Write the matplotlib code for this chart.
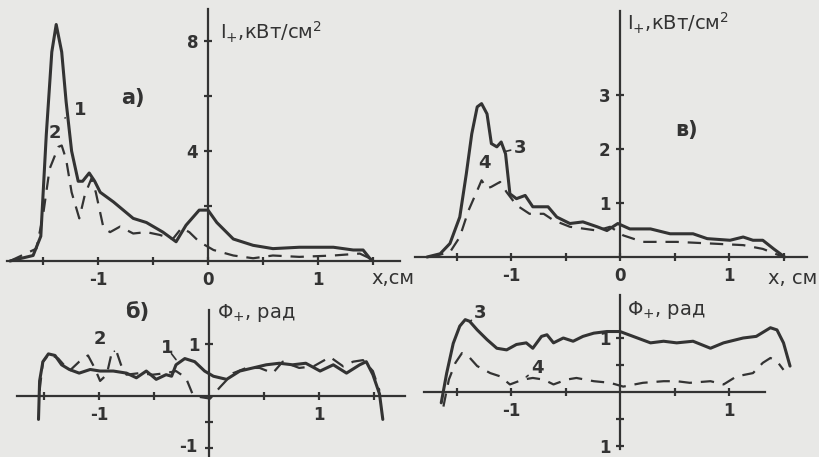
import matplotlib
matplotlib.use("Agg")
import matplotlib.pyplot as plt

# ---------------- data ----------------
# panel a) intensity, curves 1 (solid) and 2 (dashed)
xa1 = [-1.80, -1.59, -1.52, -1.47, -1.42, -1.38, -1.33, -1.29, -1.24, -1.18, -1.14, -1.08, -1.03, -0.98,
       -0.86, -0.68, -0.56, -0.41, -0.29, -0.20, -0.08, 0.00, 0.08, 0.23, 0.41, 0.59, 0.83, 1.14, 1.32,
       1.41, 1.47, 1.50]
ya1 = [0.0, 0.2, 0.9, 4.6, 7.6, 8.6, 7.6, 5.8, 4.0, 2.9, 2.9, 3.2, 2.9, 2.5,
       2.15, 1.55, 1.4, 1.05, 0.7, 1.3, 1.85, 1.85, 1.4, 0.8, 0.57, 0.45, 0.5, 0.5, 0.4,
       0.4, 0.1, 0.0]
xa2 = [-1.80, -1.56, -1.50, -1.44, -1.36, -1.33, -1.29, -1.24, -1.17, -1.12, -1.06, -1.02, -0.95, -0.89,
       -0.80, -0.68, -0.56, -0.44, -0.32, -0.24, -0.17, -0.08, 0.05, 0.23, 0.41, 0.59, 0.83, 1.14,
       1.38, 1.47]
ya2 = [0.0, 0.45, 1.65, 3.35, 4.15, 4.2, 3.7, 2.5, 1.55, 2.4, 3.0, 2.5, 1.2, 1.05,
       1.25, 1.0, 1.05, 0.95, 0.8, 1.2, 1.05, 0.7, 0.4, 0.2, 0.1, 0.2, 0.15, 0.2,
       0.27, 0.1]

# panel в) intensity, curves 3 (solid) and 4 (dashed)
xc3 = [-1.77, -1.65, -1.56, -1.47, -1.41, -1.36, -1.31, -1.27, -1.22, -1.18, -1.13, -1.09, -1.05, -1.01,
       -0.95, -0.87, -0.80, -0.66, -0.58, -0.46, -0.34, -0.21, -0.12, -0.02, 0.09, 0.28, 0.46, 0.67,
       0.80, 1.01, 1.13, 1.22, 1.31, 1.41, 1.51]
yc3 = [0.0, 0.06, 0.25, 0.74, 1.54, 2.28, 2.78, 2.84, 2.65, 2.1, 2.04, 2.13, 1.91, 1.17,
       1.08, 1.14, 0.93, 0.93, 0.74, 0.62, 0.65, 0.56, 0.49, 0.62, 0.52, 0.52, 0.43, 0.43,
       0.34, 0.31, 0.37, 0.31, 0.31, 0.15, 0.0]
xc4 = [-1.74, -1.56, -1.47, -1.39, -1.31, -1.27, -1.22, -1.18, -1.10, -1.04, -0.95, -0.83, -0.70, -0.61,
       -0.46, -0.21, -0.09, 0.03, 0.21, 0.52, 0.83, 1.13, 1.31, 1.50]
yc4 = [0.0, 0.09, 0.37, 0.86, 1.23, 1.42, 1.27, 1.3, 1.39, 1.2, 0.96, 0.8, 0.8, 0.68,
       0.56, 0.49, 0.56, 0.4, 0.28, 0.28, 0.25, 0.22, 0.15, 0.0]

# panel б) phase, curves 1 (solid) and 2 (dashed)
xb1 = [-1.55, -1.54, -1.51, -1.46, -1.40, -1.34, -1.27, -1.18, -1.08, -0.99, -0.87, -0.75, -0.66, -0.57,
       -0.48, -0.39, -0.34, -0.30, -0.22, -0.13, -0.04, 0.04, 0.16, 0.28, 0.40, 0.52, 0.64, 0.76,
       0.88, 1.01, 1.13, 1.25, 1.37, 1.43, 1.49, 1.55, 1.58]
yb1 = [-0.45, 0.29, 0.66, 0.81, 0.78, 0.6, 0.51, 0.44, 0.51, 0.48, 0.48, 0.44, 0.35, 0.48,
       0.32, 0.41, 0.38, 0.6, 0.72, 0.66, 0.48, 0.38, 0.32, 0.48, 0.54, 0.6, 0.63, 0.6,
       0.63, 0.48, 0.6, 0.44, 0.6, 0.66, 0.41, 0.04, -0.45]
xb2 = [-1.54, -1.51, -1.45, -1.37, -1.27, -1.18, -1.10, -1.04, -0.99, -0.93, -0.89, -0.84, -0.80, -0.75,
       -0.63, -0.51, -0.39, -0.30, -0.21, -0.15, -0.08, 0.01, 0.10, 0.22, 0.34, 0.46, 0.58, 0.67,
       0.82, 0.95, 1.10, 1.22, 1.31, 1.40, 1.49, 1.55]
yb2 = [0.1, 0.66, 0.81, 0.72, 0.48, 0.66, 0.78, 0.54, 0.29, 0.41, 0.78, 0.85, 0.6, 0.41,
       0.44, 0.41, 0.44, 0.48, 0.35, 0.04, -0.02, -0.05, 0.17, 0.44, 0.54, 0.54, 0.44, 0.66,
       0.54, 0.57, 0.75, 0.57, 0.66, 0.69, 0.48, 0.1]

# panel г) phase, curves 3 (solid) and 4 (dashed)
xd3 = [-1.64, -1.59, -1.53, -1.47, -1.42, -1.38, -1.31, -1.22, -1.13, -1.04, -0.95, -0.86, -0.80, -0.72,
       -0.67, -0.61, -0.52, -0.43, -0.34, -0.24, -0.12, 0.00, 0.12, 0.28, 0.40, 0.52, 0.67, 0.83,
       0.95, 1.13, 1.25, 1.38, 1.44, 1.50, 1.56]
yd3 = [-0.2, 0.35, 0.9, 1.22, 1.34, 1.31, 1.15, 0.97, 0.81, 0.78, 0.88, 0.91, 0.81, 1.03,
       1.06, 0.91, 1.0, 0.94, 1.03, 1.09, 1.12, 1.12, 1.03, 0.91, 0.94, 0.91, 0.94, 0.81,
       0.91, 1.0, 1.03, 1.19, 1.15, 0.91, 0.48]
xd4 = [-1.62, -1.57, -1.51, -1.45, -1.39, -1.31, -1.19, -1.10, -1.01, -0.89, -0.80, -0.70, -0.61, -0.49,
       -0.40, -0.24, -0.09, 0.03, 0.21, 0.40, 0.52, 0.64, 0.83, 0.95, 1.07, 1.22, 1.31, 1.38,
       1.44, 1.50]
yd4 = [-0.27, 0.23, 0.54, 0.72, 0.66, 0.48, 0.35, 0.29, 0.14, 0.23, 0.26, 0.23, 0.14, 0.23,
       0.26, 0.2, 0.17, 0.1, 0.17, 0.2, 0.2, 0.17, 0.2, 0.14, 0.29, 0.35, 0.54, 0.63,
       0.57, 0.41]

# ---------------- styling ----------------
BG = "#e8e8e6"
INK = "#333333"
W, H = 819, 457
FONT = "DejaVu Sans"
plt.rcParams["font.family"] = [FONT]
plt.rcParams["mathtext.default"] = "regular"

fig = plt.figure(figsize=(W / 100, H / 100), dpi=100, facecolor=BG)


def make_axes(left, right, top, bottom, x0, y0, pxcm, pxunit):
    """Axes in figure pixels; x0,y0 = pixel of data origin."""
    ax = fig.add_axes([left / W, 1 - bottom / H, (right - left) / W, (bottom - top) / H])
    ax.set_facecolor("none")
    ax.set_xlim((left - x0) / pxcm, (right - x0) / pxcm)
    ax.set_ylim((y0 - bottom) / pxunit, (y0 - top) / pxunit)
    for s in ("top", "right"):
        ax.spines[s].set_visible(False)
    ax.spines["left"].set_position(("data", 0))
    ax.spines["bottom"].set_position(("data", 0))
    for s in ("left", "bottom"):
        ax.spines[s].set_color(INK)
        ax.spines[s].set_linewidth(1.6)
    ax.tick_params(direction="inout", length=6, width=1.6, colors=INK,
                   labelsize=12, pad=4)
    return ax


def set_ticks(ax, xt, xl, yt, yl):
    ax.set_xticks(xt)
    ax.set_xticklabels(xl, fontweight="bold", color=INK, fontsize=12)
    ax.set_yticks(yt)
    ax.set_yticklabels(yl, fontweight="bold", color=INK, fontsize=12)


solid_kw = dict(color=INK, lw=2.2, solid_capstyle="round", clip_on=False)
dash_kw = dict(color=INK, lw=1.6, dashes=(6, 4), clip_on=False)
txt_kw = dict(color=INK, fontweight="bold", ha="center", va="center")
lab_kw = dict(color=INK, fontsize=14, ha="left", va="center")
lead = dict(arrowstyle="-", color=INK, lw=1.2, shrinkA=5, shrinkB=0)

I_LABEL = "$I_{+}$,кВт/см$^{2}$"
PHI_LABEL = "$Φ_{+}$, рад"

# ---- panel a) ----
axa = make_axes(7, 400, 8, 290, 208, 261, 110, 27.5)
axa.spines["left"].set_bounds(0, 9.15)
axa.plot(xa1, ya1, **solid_kw)
axa.plot(xa2, ya2, **dash_kw)
set_ticks(axa, [-1.5, -1, -0.5, 0, 0.5, 1, 1.5], ["", "-1", "", "0", "", "1", ""],
          [2, 4, 6, 8], ["", "4", "", "8"])
axa.text(0.11, 8.3, I_LABEL, **lab_kw)
axa.text(-0.68, 5.93, "а)", fontsize=15, **txt_kw)
axa.text(1.49, -0.62, "x,см", **lab_kw)
axa.annotate("1", xy=(-1.3, 5.2), xytext=(-1.16, 5.5), fontsize=13,
             arrowprops=lead, **txt_kw)
axa.text(-1.39, 4.65, "2", fontsize=13, **txt_kw)

# ---- panel в) ----
axc = make_axes(415, 807, 8, 290, 620, 257, 109, 54)
axc.spines["left"].set_bounds(0, 4.55)
axc.plot(xc3, yc3, **solid_kw)
axc.plot(xc4, yc4, **dash_kw)
set_ticks(axc, [-1.5, -1, -0.5, 0, 0.5, 1, 1.5], ["", "-1", "", "0", "", "1", ""],
          [1, 2, 3], ["1", "2", "3"])
axc.text(0.06, 4.33, I_LABEL, **lab_kw)
axc.text(0.61, 2.35, "в)", fontsize=15, **txt_kw)
axc.text(1.36, -0.39, "x, см", **lab_kw)
axc.annotate("3", xy=(-1.06, 1.95), xytext=(-0.92, 2.02), fontsize=13,
             arrowprops=lead, **txt_kw)
axc.text(-1.24, 1.74, "4", fontsize=13, **txt_kw)

# ---- panel б) ----
axb = make_axes(17, 405, 305, 457, 209, 396, 110, 52)
axb.spines["left"].set_bounds(-1.3, 1.65)
axb.plot(xb1, yb1, **solid_kw)
axb.plot(xb2, yb2, **dash_kw)
set_ticks(axb, [-1.5, -1, -0.5, 0.5, 1, 1.5], ["", "-1", "", "", "1", ""],
          [-1, -0.5, 1], ["", "", "1"])
axb.text(-0.1, -0.98, "-1", fontsize=12, color=INK, fontweight="bold",
         ha="right", va="center")
axb.text(0.07, 1.6, PHI_LABEL, **lab_kw)
axb.text(-0.65, 1.62, "б)", fontsize=15, **txt_kw)
axb.annotate("2", xy=(-0.86, 0.86), xytext=(-0.99, 1.1), fontsize=13,
             arrowprops=lead, **txt_kw)
axb.annotate("1", xy=(-0.3, 0.7), xytext=(-0.38, 0.92), fontsize=13,
             arrowprops=lead, **txt_kw)

# ---- panel г) ----
axd = make_axes(423, 805, 293, 457, 620, 392, 109, 54)
axd.spines["left"].set_bounds(-1.05, 1.8)
axd.spines["bottom"].set_bounds(-1.8, 1.33)
axd.plot(xd3, yd3, **solid_kw)
axd.plot(xd4, yd4, **dash_kw)
set_ticks(axd, [-1.5, -1, -0.5, 0.5, 1], ["", "-1", "", "", "1"],
          [-1, -0.5, 0.5, 1], ["1", "", "", "1"])
axd.text(0.06, 1.52, PHI_LABEL, **lab_kw)
axd.annotate("3", xy=(-1.38, 1.3), xytext=(-1.28, 1.46), fontsize=13,
             arrowprops=lead, **txt_kw)
axd.annotate("4", xy=(-0.86, 0.28), xytext=(-0.76, 0.44), fontsize=13,
             arrowprops=lead, **txt_kw)

fig.savefig("out.png", dpi=100, facecolor=BG)
